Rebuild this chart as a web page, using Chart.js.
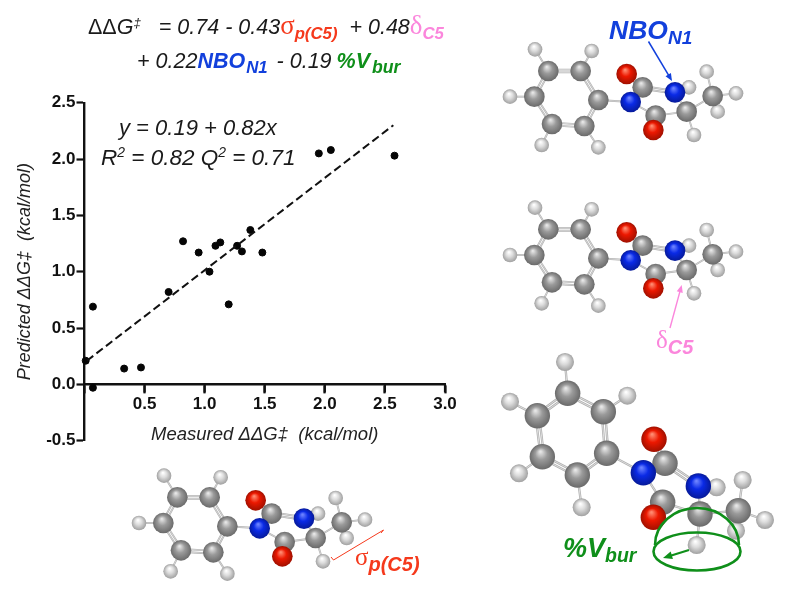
<!DOCTYPE html>
<html>
<head>
<meta charset="utf-8">
<title>Predicted vs measured</title>
<script src="https://cdn.jsdelivr.net/npm/chart.js@4"></script>
<style>
  html, body { margin: 0; padding: 0; background: #fff; }
  #wrap { position: relative; width: 800px; height: 605px; overflow: hidden; }
  canvas { position: absolute; left: 0; top: 0; }
  .t { position: absolute; white-space: pre; font-family: "Liberation Sans", Arial, sans-serif; font-style: italic; color: #1a1a1a; line-height: 1; }
  .t sup { font-size: 62%; vertical-align: baseline; position: relative; top: -0.55em; }
  .up { font-style: normal; font-weight: 400; }
  .sym { font-family: "Liberation Serif", serif; font-style: normal; font-weight: 400; }
  .big { font-size: 125%; line-height: 0; }
  .sub { font-weight: 700; font-size: 78%; position: relative; top: 0.28em; }
  .b { font-weight: 700; }
  .red { color: #f5391c; } .pink { color: #fb86dc; } .blue { color: #1240dc; } .green { color: #0f8f1a; }
</style>
</head>
<body>
<div id="wrap">
  <canvas id="grafico" width="800" height="605"></canvas>

  <!-- ecuacion -->
  <div class="t" style="left:88px;top:17px;font-size:21.5px"><span class="up">ΔΔ</span>G<sup>‡</sup>   = 0.74 - 0.43<span class="sym big red">σ</span><span class="sub red">p(C5)</span>  + 0.48<span class="sym big pink">δ</span><span class="sub pink">C5</span></div>
  <div class="t" style="left:137px;top:51px;font-size:21.5px">+ 0.22<span class="b blue">NBO</span><span class="sub blue" style="margin-left:1px;margin-right:3px">N1</span> - 0.19<span class="b green" style="margin-left:5px">%V</span><span class="sub green" style="margin-left:2px;font-size:82%">bur</span></div>

  <!-- ajuste -->
  <div class="t" style="left:119px;top:117px;font-size:22px">y = 0.19 + 0.82x</div>
  <div class="t" style="left:101px;top:147px;font-size:22.5px">R<sup>2</sup> = 0.82 Q<sup>2</sup> = 0.71</div>

  <!-- etiquetas de las moleculas -->
  <div class="t b blue" style="left:609px;top:17px;font-size:26.5px">NBO<span class="sub" style="font-size:72%">N1</span></div>
  <div class="t pink" style="left:656px;top:327px;font-size:25px"><span class="sym">δ</span><span class="sub" style="font-size:80%">C5</span></div>
  <div class="t b green" style="left:563px;top:535px;font-size:27px">%V<span class="sub" style="font-size:72%">bur</span></div>
  <div class="t red" style="left:355px;top:544px;font-size:25px"><span class="sym">σ</span><span class="sub" style="font-size:80%">p(C5)</span></div>
</div>

<script>
// Datos
const measured = [0.01, 0.07, 0.07, 0.33, 0.47, 0.70, 0.82, 0.95, 1.04, 1.09, 1.13, 1.20, 1.27, 1.31, 1.38, 1.48, 1.95, 2.05, 2.58];
const predicted = [0.21, 0.69, -0.03, 0.14, 0.15, 0.82, 1.27, 1.17, 1.00, 1.23, 1.26, 0.71, 1.23, 1.18, 1.37, 1.17, 2.05, 2.08, 2.03];
const fitX = [0.02, 2.57];
const fitY = [0.21, 2.30];
const xTicks = [0, 0.5, 1.0, 1.5, 2.0, 2.5, 3.0];
const yTicks = [-0.5, 0, 0.5, 1.0, 1.5, 2.0, 2.5];
const xTitle = 'Measured ΔΔG‡  (kcal/mol)';
const yTitle = 'Predicted ΔΔG‡  (kcal/mol)';

// Molecula: tipo, x, y (dibujo, 3 unidades = 1 px)
const moleculeFlat = [
  ['C',175,213],['C',272,213],['C',133,290],['C',325,300],['C',186,372],['C',283,378],
  ['H',135,148],['H',305,153],['H',60,290],['H',155,435],['H',325,442],
  ['C',458,262],['N',422,306],['O',410,222],['C',590,335],['N',555,277],['H',597,262],
  ['C',497,347],['O',490,390],['H',612,405],['C',668,288],['H',650,215],['H',738,280],['H',683,335]
];
const moleculeTilted = [
  ['C',233,70],['C',340,125],['C',142,137],['C',350,250],['C',157,260],['C',262,315],
  ['H',225,-24],['H',412,77],['H',60,95],['H',87,310],['H',275,412],
  ['C',525,280],['N',460,308],['O',492,208],['C',630,432],['N',625,348],['H',680,352],
  ['C',518,397],['O',490,442],['H',620,525],['C',745,422],['H',758,330],['H',825,450],['H',738,482]
];
const bonds = [
  [0,1,2],[1,3,2],[3,5,2],[5,4,2],[4,2,2],[2,0,2],
  [0,6,1],[1,7,1],[2,8,1],[4,9,1],[5,10,1],
  [3,12,1],[12,11,1],[11,13,2],[11,15,2],[15,16,1],[12,17,1],[17,18,2],
  [17,14,1],[14,15,1],[14,19,1],[14,20,1],[20,21,1],[20,22,1],[20,23,1]
];
const atomColors = {
  C: ['#e6e6e6', '#9a9a9a', '#6a6a6a'],
  H: ['#ffffff', '#dcdcdc', '#a0a0a0'],
  N: ['#6c82ff', '#0a2ae6', '#061a9a'],
  O: ['#ff8a70', '#ec1800', '#a01000']
};
const atomRadius = { C: 31, H: 22, N: 31, O: 31 };

function drawMolecule(c, atoms, ox, oy, rs) {
  const px = a => ox + a[1] / 3;
  const py = a => oy + a[2] / 3;
  c.filter = 'blur(0.5px)';
  bonds.forEach(([i, j, order]) => {
    const a = atoms[i], b = atoms[j];
    const dx = px(b) - px(a), dy = py(b) - py(a);
    const len = Math.hypot(dx, dy);
    const nx = -dy / len * 1.4 * rs, ny = dx / len * 1.4 * rs;
    const offs = order === 2 ? [-1, 1] : [0];
    offs.forEach(k => {
      [['#aeaeae', 1.9 * rs], ['#e4e4e4', 0.7 * rs]].forEach(([col, w]) => {
        c.strokeStyle = col;
        c.lineWidth = w;
        c.beginPath();
        c.moveTo(px(a) + nx * k, py(a) + ny * k);
        c.lineTo(px(b) + nx * k, py(b) + ny * k);
        c.stroke();
      });
    });
  });
  // primero los H, quedan detras
  const ordered = atoms.filter(a => a[0] === 'H').concat(atoms.filter(a => a[0] !== 'H'));
  ordered.forEach(a => {
    const r = atomRadius[a[0]] / 3 * rs;
    const x = px(a), y = py(a);
    const g = c.createRadialGradient(x - r * 0.15, y - r * 0.4, r * 0.05, x, y, r);
    const col = atomColors[a[0]];
    g.addColorStop(0, col[0]);
    g.addColorStop(0.45, col[1]);
    g.addColorStop(1, col[2]);
    c.fillStyle = g;
    c.beginPath();
    c.arc(x, y, r, 0, Math.PI * 2);
    c.fill();
  });
  c.filter = 'none';
}

function arrow(c, x1, y1, x2, y2, color, w, head) {
  const ang = Math.atan2(y2 - y1, x2 - x1);
  c.strokeStyle = color;
  c.fillStyle = color;
  c.lineWidth = w;
  c.beginPath();
  c.moveTo(x1, y1);
  c.lineTo(x2 - Math.cos(ang) * head * 0.7, y2 - Math.sin(ang) * head * 0.7);
  c.stroke();
  c.beginPath();
  c.moveTo(x2, y2);
  c.lineTo(x2 - head * Math.cos(ang - 0.4), y2 - head * Math.sin(ang - 0.4));
  c.lineTo(x2 - head * Math.cos(ang + 0.4), y2 - head * Math.sin(ang + 0.4));
  c.closePath();
  c.fill();
}

// Las moleculas y sus marcas van en el mismo canvas
const moleculesPlugin = {
  id: 'molecules',
  afterDraw(chart) {
    const c = chart.ctx;
    c.save();

    // marcas del eje x, que cruza en y = 0
    const y0 = chart.scales.y.getPixelForValue(0);
    c.strokeStyle = '#111';
    c.lineWidth = 2.2;
    xTicks.slice(1).forEach(v => {
      const tx = chart.scales.x.getPixelForValue(v);
      c.beginPath();
      c.moveTo(tx, y0);
      c.lineTo(tx, y0 + 8);
      c.stroke();
    });

    drawMolecule(c, moleculeFlat, 490, 0, 1);
    drawMolecule(c, moleculeFlat, 490, 158.3, 1);
    drawMolecule(c, moleculeFlat, 119, 426.3, 1);
    drawMolecule(c, moleculeTilted, 490, 370, 1.23);

    arrow(c, 648.5, 41.5, 672, 81, '#1240dc', 1.5, 8);
    arrow(c, 670, 328, 681.7, 285, '#fb86dc', 1.4, 8);

    // corchete rojo
    c.strokeStyle = '#f5391c';
    c.lineWidth = 1;
    c.beginPath();
    c.moveTo(381, 533);
    c.lineTo(383.5, 530);
    c.lineTo(333.5, 560);
    c.lineTo(331, 557);
    c.stroke();

    // cupula verde
    c.strokeStyle = '#0f8f1a';
    c.lineWidth = 2.6;
    c.beginPath();
    c.ellipse(697, 551.5, 43.5, 19, 0, 0, Math.PI * 2);
    c.stroke();
    c.beginPath();
    c.ellipse(697, 545, 42, 37, 0, Math.PI, Math.PI * 2);
    c.stroke();
    arrow(c, 689, 550, 663, 558, '#0f8f1a', 2.2, 10);
    c.restore();
  }
};

new Chart(document.getElementById('grafico'), {
  type: 'scatter',
  data: {
    datasets: [{
      label: 'Fit',
      type: 'line',
      data: fitX.map((x, i) => ({ x: x, y: fitY[i] })),
      borderColor: '#111',
      borderWidth: 2,
      borderDash: [8, 4],
      pointRadius: 0,
      fill: false,
      clip: false
    }, {
      label: 'Reactions',
      data: measured.map((x, i) => ({ x: x, y: predicted[i] })),
      backgroundColor: '#050505',
      borderColor: '#050505',
      pointRadius: 3.5,
      clip: false
    }]
  },
  options: {
    responsive: false,
    animation: false,
    layout: { padding: { left: 0, top: 102.7, right: 355, bottom: 164.3 } },
    plugins: { legend: { display: false }, tooltip: { enabled: false } },
    scales: {
      x: {
        type: 'linear',
        min: 0,
        max: 3,
        position: { y: 0 },
        afterBuildTicks: axis => { axis.ticks = xTicks.map(v => ({ value: v })); },
        grid: { drawOnChartArea: false, tickLength: 8, tickWidth: 2.2, tickColor: '#111' },
        border: { color: '#111', width: 2.4 },
        ticks: {
          color: '#111',
          padding: 2,
          maxRotation: 0,
          font: { family: 'Liberation Sans', size: 17, weight: 'bold' },
          callback: v => (v === 0 ? '' : v.toFixed(1))
        },
        title: {
          display: true,
          text: xTitle,
          color: '#222',
          padding: { top: 7, bottom: 0 },
          font: { family: 'Liberation Sans', size: 18.5, style: 'italic' }
        }
      },
      y: {
        type: 'linear',
        min: -0.5,
        max: 2.5,
        position: 'left',
        afterBuildTicks: axis => { axis.ticks = yTicks.map(v => ({ value: v })); },
        afterFit: axis => { axis.width = 84.5; },
        grid: { drawOnChartArea: false, tickLength: 8, tickWidth: 2.2, tickColor: '#111' },
        border: { color: '#111', width: 2.4 },
        ticks: {
          color: '#111',
          padding: 1,
          font: { family: 'Liberation Sans', size: 17, weight: 'bold' },
          callback: v => v.toFixed(1)
        },
        title: {
          display: true,
          text: yTitle,
          color: '#222',
          padding: { top: 14, bottom: 0 },
          font: { family: 'Liberation Sans', size: 18, style: 'italic' }
        }
      }
    }
  },
  plugins: [moleculesPlugin]
});
</script>
</body>
</html>
